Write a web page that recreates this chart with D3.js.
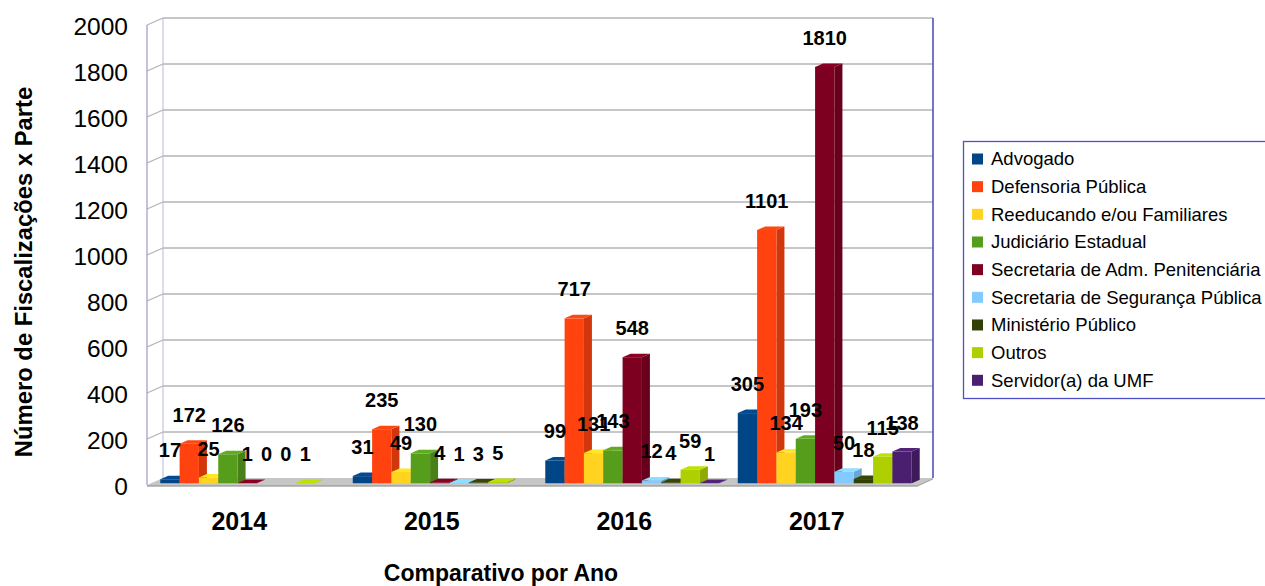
<!DOCTYPE html>
<html>
<head>
<meta charset="utf-8">
<script src="https://cdn.jsdelivr.net/npm/d3@7"></script>
<style>
  html, body { margin: 0; padding: 0; background: #fff; }
  svg { display: block; font-family: "Liberation Sans", Arial, sans-serif; }
</style>
</head>
<body>
<svg id="chart" width="1265" height="586"></svg>
<script>
const years = ["2014", "2015", "2016", "2017"];
const seriesNames = [
  "Advogado",
  "Defensoria Pública",
  "Reeducando e/ou Familiares",
  "Judiciário Estadual",
  "Secretaria de Adm. Penitenciária",
  "Secretaria de Segurança Pública",
  "Ministério Público",
  "Outros",
  "Servidor(a) da UMF"
];
const seriesColors = ["#004586", "#ff420e", "#ffd320", "#579d1c", "#7e0021", "#83caff", "#314004", "#aecf00", "#4b1f6f"];
const values2014 = [17, 172, 25, 126, 1, 0, 0, 1, null];
const values2015 = [31, 235, 49, 130, 4, 1, 3, 5, null];
const values2016 = [99, 717, 131, 143, 548, 12, 4, 59, 1];
const values2017 = [305, 1101, 134, 193, 1810, 50, 18, 115, 138];
const yTicks = [0, 200, 400, 600, 800, 1000, 1200, 1400, 1600, 1800, 2000];
const yTitle = "Número de Fiscalizações x Parte";
const xTitle = "Comparativo por Ano";

const valuesByYear = [values2014, values2015, values2016, values2017];

const svg = d3.select("#chart");

// geometry of the 3D box
const front = { left: 147, right: 917, bottom: 485, top: 25 };
const depthX = 16, depthY = -7;   // offset from front plane to back wall
const barF0 = 0.25, barF1 = 0.75; // bar depth span as fractions

const x0 = d3.scaleBand().domain(years).range([front.left, front.right]).padding(0);
const x1 = d3.scaleBand().domain(seriesNames).range([0, x0.bandwidth()]).paddingInner(0).paddingOuter(0.48);
const y = d3.scaleLinear().domain([0, 2000]).range([front.bottom, front.top]);
const color = d3.scaleOrdinal().domain(seriesNames).range(seriesColors);

// ---- walls ----
const walls = svg.append("g");
walls.append("rect")
  .attr("x", front.left + depthX).attr("y", y(2000) + depthY)
  .attr("width", front.right - front.left).attr("height", y(0) - y(2000))
  .attr("fill", "#ffffff");
walls.append("path")
  .attr("d", `M${front.left},${y(0)} L${front.left},${y(2000)} L${front.left + depthX},${y(2000) + depthY} L${front.left + depthX},${y(0) + depthY} Z`)
  .attr("fill", "#ffffff");

yTicks.forEach(v => {
  if (v === 0) return;
  walls.append("line")
    .attr("x1", front.left + depthX).attr("x2", front.right + depthX)
    .attr("y1", y(v) + depthY).attr("y2", y(v) + depthY)
    .attr("stroke", "#b3b3b3").attr("stroke-width", 1.3);
  walls.append("line")
    .attr("x1", front.left).attr("x2", front.left + depthX)
    .attr("y1", y(v)).attr("y2", y(v) + depthY)
    .attr("stroke", "#b3b3b3").attr("stroke-width", 1.3);
});
walls.append("line")
  .attr("x1", front.left).attr("x2", front.left)
  .attr("y1", y(2000)).attr("y2", y(0))
  .attr("stroke", "#9a9acc").attr("stroke-width", 1.2);
walls.append("line")
  .attr("x1", front.left + depthX).attr("x2", front.left + depthX)
  .attr("y1", y(2000) + depthY).attr("y2", y(0) + depthY)
  .attr("stroke", "#b8b8d8").attr("stroke-width", 1);
walls.append("line")
  .attr("x1", front.right + depthX).attr("x2", front.right + depthX)
  .attr("y1", y(2000) + depthY).attr("y2", y(0) + depthY)
  .attr("stroke", "#5252b8").attr("stroke-width", 1.6);

// floor
walls.append("path")
  .attr("d", `M${front.left},${y(0)} L${front.left + depthX},${y(0) + depthY} L${front.right + depthX},${y(0) + depthY} L${front.right},${y(0)} Z`)
  .attr("fill", "#c6c6c6");
walls.append("path")
  .attr("d", `M${front.left},${y(0)} L${front.right},${y(0)} L${front.right + depthX},${y(0) + depthY} L${front.right + depthX},${y(0) + depthY + 1.5} L${front.right},${y(0) + 1.8} L${front.left},${y(0) + 1.8} Z`)
  .attr("fill", "#a9a9a9");

// ---- bars ----
const bars = svg.append("g");
const barData = [];
years.forEach((yr, yi) => {
  seriesNames.forEach((s, si) => {
    const v = valuesByYear[yi][si];
    if (v === null || v === undefined) return;
    barData.push({ year: yr, series: s, value: v });
  });
});

const dx0 = depthX * barF0, dy0 = depthY * barF0;
const dd = depthX * (barF1 - barF0), ddy = depthY * (barF1 - barF0);

barData.forEach(d => {
  if (d.value <= 0) return;
  const xl = x0(d.year) + x1(d.series) + dx0;
  const w = x1.bandwidth();
  const yb = y(0) + dy0;
  const yt = y(d.value) + dy0;
  const c = d3.color(color(d.series));
  const g = bars.append("g");
  g.append("path")
    .attr("d", `M${xl + w},${yb} L${xl + w},${yt} L${xl + w + dd},${yt + ddy} L${xl + w + dd},${yb + ddy} Z`)
    .attr("fill", c.darker(0.55).formatHex());
  g.append("path")
    .attr("d", `M${xl},${yt} L${xl + dd},${yt + ddy} L${xl + w + dd},${yt + ddy} L${xl + w},${yt} Z`)
    .attr("fill", c.brighter(0.25).formatHex());
  g.append("rect")
    .attr("x", xl).attr("y", yt)
    .attr("width", w).attr("height", Math.max(0, yb - yt))
    .attr("fill", c.formatHex());
});

// ---- data labels ----
const labels = svg.append("g")
  .attr("font-size", 20).attr("font-weight", "bold").attr("fill", "#000").attr("text-anchor", "middle");
barData.forEach(d => {
  const xc = x0(d.year) + x1(d.series) + dx0 + x1.bandwidth() / 2;
  const yt = y(d.value) + dy0;
  labels.append("text")
    .attr("x", xc).attr("y", yt - 22)
    .text(d.value);
});

// ---- y axis tick labels ----
const yAxis = d3.axisLeft(y).tickValues(yTicks).tickSize(0).tickPadding(0).tickFormat(d3.format("d"));
const yAxisG = svg.append("g")
  .attr("transform", `translate(128,2)`)
  .call(yAxis);
yAxisG.select(".domain").remove();
yAxisG.selectAll("text")
  .attr("font-size", 24.5).attr("font-family", "Liberation Sans, Arial, sans-serif")
  .attr("fill", "#000");

// ---- x axis labels ----
const xAxis = d3.axisBottom(x0).tickSize(0).tickPadding(0);
const xAxisG = svg.append("g")
  .attr("transform", `translate(-4,512)`)
  .call(xAxis);
xAxisG.select(".domain").remove();
xAxisG.selectAll("text")
  .attr("font-size", 25).attr("font-weight", "bold")
  .attr("font-family", "Liberation Sans, Arial, sans-serif")
  .attr("fill", "#000");

// ---- titles ----
svg.append("text")
  .attr("transform", "translate(31.5,272) rotate(-90)")
  .attr("text-anchor", "middle")
  .attr("font-size", 23.8).attr("font-weight", "bold").attr("fill", "#000")
  .text(yTitle);
svg.append("text")
  .attr("x", 501).attr("y", 581)
  .attr("text-anchor", "middle")
  .attr("font-size", 23).attr("font-weight", "bold").attr("fill", "#000")
  .text(xTitle);

// ---- legend ----
const legend = svg.append("g");
legend.append("rect")
  .attr("x", 963.5).attr("y", 141.5).attr("width", 303).attr("height", 257)
  .attr("fill", "#fff").attr("stroke", "#4f4fc8").attr("stroke-width", 1.3);
const ly = d3.scalePoint().domain(seriesNames).range([159, 380.3]);
seriesNames.forEach(s => {
  legend.append("rect")
    .attr("x", 972).attr("y", ly(s) - 5.5).attr("width", 11).attr("height", 11)
    .attr("fill", color(s));
  legend.append("text")
    .attr("x", 991).attr("y", ly(s)).attr("dy", "0.35em")
    .attr("font-size", 18.5).attr("fill", "#000")
    .text(s);
});
</script>
</body>
</html>
